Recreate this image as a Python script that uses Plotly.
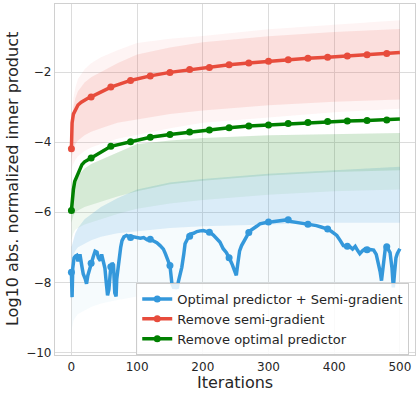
import plotly.graph_objects as go

# ---------------- data ----------------
red_x = [0, 1, 3, 6, 10, 15, 20, 25, 30, 60, 90, 120, 150, 180, 210, 240, 270, 300, 330, 360, 390, 420, 450, 480, 500]
red_y = [-4.19, -3.45, -3.2, -3.08, -2.94, -2.86, -2.79, -2.75, -2.71, -2.43, -2.24, -2.11, -2.01, -1.93, -1.87,
         -1.79, -1.74, -1.69, -1.65, -1.61, -1.58, -1.54, -1.51, -1.47, -1.44]

green_x = [0, 1, 3, 5, 8, 12, 16, 20, 25, 30, 60, 90, 120, 150, 180, 210, 240, 270, 300, 330, 360, 390, 420, 450, 480, 500]
green_y = [-5.95, -5.6, -5.35, -5.12, -4.97, -4.78, -4.64, -4.56, -4.5, -4.45, -4.12, -3.99, -3.86, -3.78, -3.71, -3.65,
           -3.59, -3.54, -3.51, -3.47, -3.44, -3.41, -3.40, -3.38, -3.37, -3.34]

blue_x = [0, 1, 2, 4, 6, 8, 10, 13, 16, 18, 21, 23, 25, 28, 30, 31, 33, 36, 39, 41, 44, 46, 49, 51, 53, 55, 57, 59, 60,
          62, 64, 66, 68, 69, 72, 75, 77, 80, 84, 89, 90, 94, 100, 105, 110, 115, 120, 125, 130, 135, 140, 143, 147,
          150, 153, 156, 158, 161, 163, 166, 168, 171, 173, 177, 180, 181, 186, 191, 196, 201, 206, 210, 211, 216, 221,
          226, 231, 236, 240, 241, 245, 247, 249, 251, 253, 254, 256, 259, 263, 267, 270, 272, 277, 282, 287, 293,
          300, 306, 313, 320, 326, 330, 333, 337, 343, 350, 358, 360, 365, 373, 380, 389, 390, 396, 404, 409, 414,
          419, 420, 424, 428, 432, 436, 439, 443, 447, 450, 451, 455, 460, 464, 467, 470, 472, 474, 476, 478, 480,
          482, 485, 488, 490, 492, 494, 496, 498, 500]
blue_y = [-7.71, -8.42, -7.6, -7.3, -7.25, -7.23, -7.4, -7.2, -7.55, -7.76, -7.9, -8.04, -7.8, -7.57, -7.45, -7.4,
          -7.28, -7.11, -7.14, -7.3, -7.38, -7.2, -7.46, -7.6, -8.0, -8.37, -8.2, -7.6, -7.55, -7.45, -7.5, -8.3,
          -8.4, -7.9, -7.33, -7.0, -6.81, -6.7, -6.66, -6.72, -6.72, -6.7, -6.72, -6.74, -6.72, -6.78, -6.77, -6.81,
          -6.87, -6.95, -7.05, -7.18, -7.35, -7.52, -8.04, -8.17, -8.1, -8.17, -7.96, -7.75, -7.57, -7.2, -6.9, -6.75,
          -6.68, -6.62, -6.6, -6.55, -6.53, -6.52, -6.55, -6.57, -6.57, -6.65, -6.76, -6.85, -7.04, -7.15, -7.3,
          -7.33, -7.5, -7.61, -7.72, -7.8, -7.5, -7.3, -7.1, -6.95, -6.8, -6.66, -6.58, -6.53, -6.45, -6.4, -6.33,
          -6.3, -6.28, -6.27, -6.25, -6.24, -6.23, -6.21, -6.26, -6.27, -6.30, -6.32, -6.33, -6.34, -6.35, -6.38,
          -6.42, -6.47, -6.48, -6.55, -6.66, -6.8, -6.95, -6.97, -6.97, -6.98, -7.05, -6.97, -7.1, -7.18, -7.1,
          -7.04, -7.07, -7.08, -7.06, -7.08, -7.2, -7.42, -7.7, -7.95, -7.6, -7.2, -7.0, -6.98, -7.05, -7.15, -7.6,
          -8.14, -7.7, -7.3, -7.18, -7.1, -7.04]

marker_iters = [0, 30, 60, 90, 120, 150, 180, 210, 240, 270, 300, 330, 360, 390, 420, 450, 480]

# faint ensemble of individual runs, drawn as density bands (upper / lower edges)
band_x = [0, 1, 3, 6, 10, 20, 30, 45, 70, 100, 150, 200, 300, 400, 500]
red_outer_up = [-4.0, -3.2, -2.75, -2.45, -2.2, -1.92, -1.75, -1.58, -1.38, -1.17, -1.05, -0.97, -0.78, -0.64, -0.52]
red_outer_lo = [-4.8, -4.7, -4.6, -4.5, -4.4, -4.25, -4.15, -4.05, -3.9, -3.78, -3.6, -3.45, -3.3, -3.15, -3.05]
red_inner_up = [-4.1, -3.4, -3.0, -2.75, -2.55, -2.3, -2.15, -2.0, -1.75, -1.5, -1.3, -1.15, -0.98, -0.86, -0.77]
red_inner_lo = [-4.6, -4.4, -4.2, -4.05, -3.95, -3.8, -3.7, -3.6, -3.45, -3.35, -3.2, -3.1, -2.95, -2.85, -2.78]
green_up = [-5.9, -5.5, -5.3, -5.1, -4.95, -4.75, -4.62, -4.5, -4.3, -4.05, -3.95, -3.88, -3.8, -3.76, -3.74]
green_inner_lo = [-6.3, -6.2, -6.1, -6.0, -5.95, -5.85, -5.8, -5.7, -5.55, -5.4, -5.2, -5.1, -4.95, -4.85, -4.8]
green_outer_lo = [-6.8, -6.7, -6.6, -6.5, -6.45, -6.35, -6.3, -6.2, -6.05, -5.9, -5.75, -5.65, -5.5, -5.4, -5.35]
blue_up = [-7.0, -6.9, -6.8, -6.6, -6.45, -6.2, -6.05, -5.85, -5.6, -5.35, -5.15, -5.05, -4.9, -4.8, -4.7]
blue_inner_lo = [-7.4, -7.3, -7.2, -7.1, -7.0, -6.9, -6.8, -6.7, -6.6, -6.55, -6.45, -6.4, -6.35, -6.3, -6.3]
blue_streak_lo = [-9.5, -9.3, -9.1, -9.0, -8.9, -8.8, -8.7, -8.6, -8.5, -8.4, -8.3, -8.2, -8.2, -8.3, -8.6]

x_ticks = [0, 100, 200, 300, 400, 500]
y_ticks = [-10, -8, -6, -4, -2]

names = ["Optimal predictor + Semi-gradient", "Remove semi-gradient", "Remove optimal predictor"]
BLUE, RED, GREEN = "#3498db", "#e74c3c", "#008000"

fig = go.Figure()


def band(up, lo, color):
    fig.add_trace(go.Scatter(x=band_x + band_x[::-1], y=up + lo[::-1], fill="toself", fillcolor=color,
                             line=dict(width=0), mode="lines", hoverinfo="skip", showlegend=False))


band(blue_up, blue_streak_lo, "rgba(52,152,219,0.045)")
band(blue_up, blue_inner_lo, "rgba(52,152,219,0.14)")
band(green_up, green_outer_lo, "rgba(0,128,0,0.06)")
band(green_up, green_inner_lo, "rgba(0,128,0,0.11)")
band(red_outer_up, red_outer_lo, "rgba(231,76,60,0.06)")
band(red_inner_up, red_inner_lo, "rgba(231,76,60,0.12)")


def series(xs, ys, color, name):
    fig.add_trace(go.Scatter(x=xs, y=ys, mode="lines", line=dict(color=color, width=3.5),
                             showlegend=False, hoverinfo="skip"))
    mx = [x for x in xs if x in marker_iters]
    my = [y for x, y in zip(xs, ys) if x in marker_iters]
    fig.add_trace(go.Scatter(x=mx, y=my, mode="markers", marker=dict(color=color, size=7),
                             showlegend=False))


series(green_x, green_y, GREEN, names[2])
series(red_x, red_y, RED, names[1])
series(blue_x, blue_y, BLUE, names[0])

for nm, c in zip(names, [BLUE, RED, GREEN]):
    fig.add_trace(go.Scatter(x=[None], y=[None], mode="lines+markers", name=nm,
                             line=dict(color=c, width=3.5), marker=dict(color=c, size=7)))

axis_common = dict(showgrid=True, gridcolor="#dcdcdc", gridwidth=1, zeroline=False,
                   showline=True, linecolor="#d0d0d0", linewidth=1.2, mirror=True, ticks="",
                   tickfont=dict(family="DejaVu Sans", size=12, color="#262626"))

fig.update_layout(
    width=420, height=396,
    margin=dict(l=55, r=5, t=4, b=41),
    paper_bgcolor="white", plot_bgcolor="white",
    xaxis=dict(range=[-25, 523], tickvals=x_ticks, **axis_common),
    yaxis=dict(range=[-10.07, -0.06], tickvals=y_ticks, ticktext=[f"\u2212{abs(v)}" for v in y_ticks],
               **axis_common),
    legend=dict(x=0.984, y=0.0, xanchor="right", yanchor="bottom",
                bgcolor="rgba(255,255,255,0.85)", bordercolor="#cccccc", borderwidth=1,
                font=dict(family="DejaVu Sans", size=13, color="#262626"), tracegroupgap=0),
    annotations=[
        dict(text="Iterations", xref="paper", yref="paper", x=0.5, y=-0.078, xanchor="center",
             yanchor="middle", showarrow=False, font=dict(family="DejaVu Sans", size=16, color="#262626")),
        dict(text="Log10 abs. normalized inner product", xref="paper", yref="paper", x=-0.118, y=0.5,
             xanchor="center", yanchor="middle", textangle=-90, showarrow=False,
             font=dict(family="DejaVu Sans", size=16, color="#262626")),
    ],
)

fig.write_html("out.html", config={"displayModeBar": False},
               post_script="document.body.style.margin='0';document.body.style.overflow='hidden';")
